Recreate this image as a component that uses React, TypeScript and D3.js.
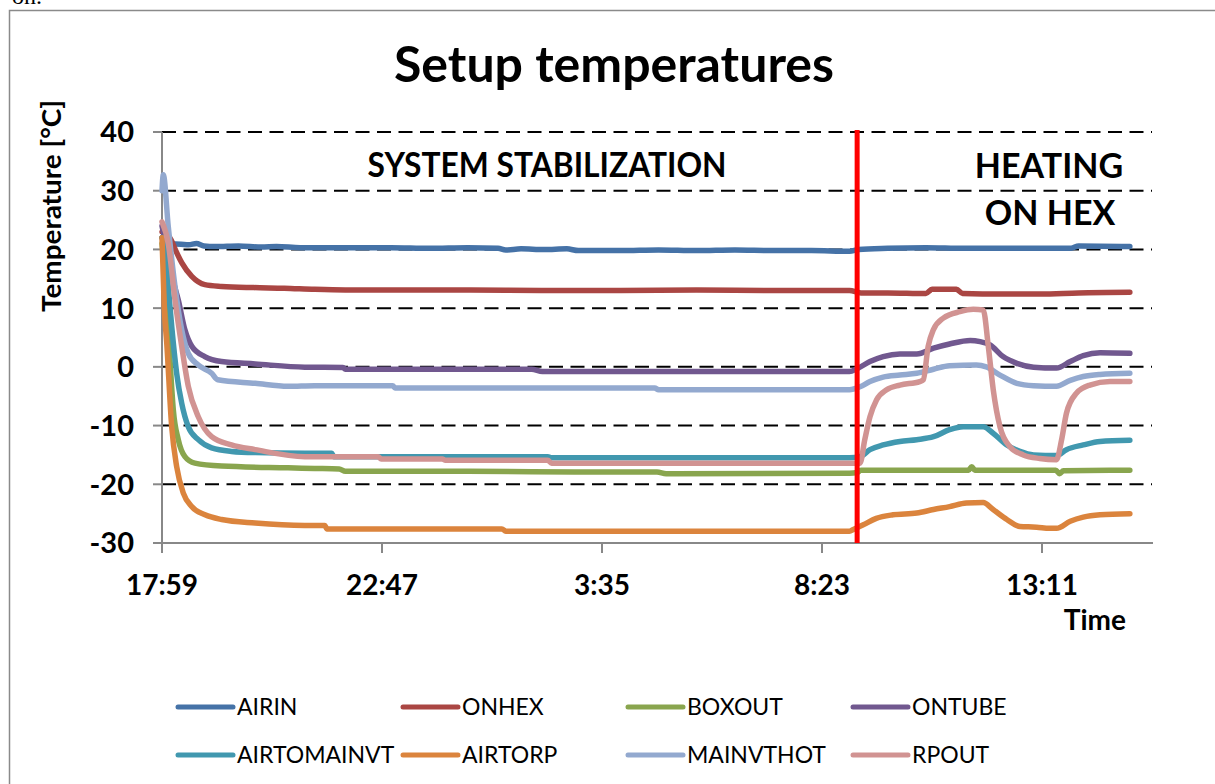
import React from 'react';
import * as d3 from 'd3';

type Pt = [number, number];

// time in minutes after 17:59, temperature in °C
const AIRIN: Pt[] = [[0,22],[3,21.5],[8,21],[25,20.9],[35,20.8],[45,21],[55,20.6],[70,20.5],[100,20.6],[130,20.4],[150,20.5],[181,20.3],[250,20.3],[300,20.3],[350,20.2],[400,20.3],[440,20.2],[450,19.9],[470,20.1],[500,20.0],[530,20.1],[545,19.8],[600,19.8],[650,19.9],[700,19.8],[750,19.9],[800,19.8],[850,19.8],[900,19.7],[912,20.0],[950,20.2],[1000,20.3],[1050,20.2],[1100,20.2],[1150,20.2],[1190,20.2],[1200,20.6],[1267,20.5]];
const ONHEX: Pt[] = [[0,23],[5,22.8],[12,21.6],[18,19.8],[26,17.7],[39,15.4],[56,14],[78,13.7],[120,13.5],[160,13.4],[200,13.2],[240,13.1],[300,13.1],[400,13.1],[500,13.0],[600,13.0],[700,13.1],[800,13.0],[900,13.0],[915,12.6],[950,12.6],[1000,12.5],[1008,13.2],[1040,13.2],[1048,12.5],[1100,12.4],[1150,12.4],[1200,12.6],[1267,12.7]];
const BOXOUT: Pt[] = [[0,21],[6,12.5],[10.5,1.2],[14.8,-7.3],[21.3,-12.4],[30,-15.3],[43,-16.4],[78,-16.9],[165,-17.2],[200,-17.3],[232,-17.4],[240,-17.8],[400,-17.8],[550,-17.9],[648,-17.9],[660,-18.2],[900,-18.1],[910,-18.0],[915,-17.6],[1000,-17.6],[1056,-17.6],[1060,-17.0],[1064,-17.6],[1170,-17.6],[1175,-18.2],[1180,-17.7],[1267,-17.6]];
const ONTUBE: Pt[] = [[0,24],[8,19],[14,15],[21.3,11.4],[30,6.3],[39,3.5],[56,1.75],[78,0.9],[122,0.5],[187,-0.05],[237,-0.1],[240,-0.4],[484,-0.4],[498,-0.8],[900,-0.8],[910,-0.3],[926.8,0.9],[944,1.75],[966,2.2],[988,2.2],[1010,3.2],[1031,3.9],[1058,4.5],[1071,4.3],[1084,3.75],[1101,1.75],[1119,0.6],[1141,-0.05],[1171,-0.2],[1189,0.9],[1206,1.9],[1228,2.4],[1267,2.3]];
const AIRTOMAINVT: Pt[] = [[0,22],[4,20],[8.2,13.7],[12.7,6.9],[19.2,-1.1],[25.8,-6.2],[34.4,-10.2],[47.5,-12.4],[65,-13.8],[91,-14.4],[122,-14.6],[187,-14.7],[222,-14.7],[225,-15.3],[505,-15.3],[510,-15.5],[900,-15.5],[913.7,-15.3],[926.8,-14.1],[944,-13.3],[966,-12.7],[988,-12.4],[1010,-11.9],[1031,-10.7],[1049,-10.2],[1075,-10.2],[1088,-11.3],[1106,-13.3],[1123,-14.4],[1141,-15],[1171,-15.1],[1184,-14.1],[1206,-13.3],[1228,-12.7],[1267,-12.5]];
const AIRTORP: Pt[] = [[0,22],[3,10],[6.2,4.1],[12.7,-10.2],[19.2,-17],[27.9,-21.5],[38.9,-23.8],[56.3,-25.2],[78,-26.0],[122,-26.6],[187,-27.0],[213,-27.0],[216,-27.6],[445,-27.6],[450,-28.0],[900,-28.0],[905,-27.7],[918,-26.9],[935,-25.8],[957,-25.2],[988,-24.9],[1010,-24.3],[1031,-23.8],[1053,-23.2],[1075,-23.1],[1088,-24.3],[1106,-26.0],[1123,-27.2],[1145,-27.3],[1162,-27.5],[1171,-27.5],[1189,-26.3],[1206,-25.6],[1228,-25.2],[1267,-25.0]];
const MAINVTHOT: Pt[] = [[0,30],[1.7,32.7],[8.2,23.9],[17,13.7],[25.8,6.3],[34.4,2.3],[47.5,0.3],[65,-1.1],[73,-2.2],[122,-2.8],[165,-3.3],[200,-3.2],[302,-3.2],[305,-3.6],[645,-3.6],[650,-3.9],[900,-3.9],[913.7,-3.4],[926.8,-2.5],[944,-1.75],[966,-1.4],[988,-1.1],[1010,-0.4],[1031,0.2],[1066,0.3],[1079,0],[1097,-1.4],[1119,-2.8],[1141,-3.2],[1171,-3.3],[1189,-2.3],[1206,-1.65],[1228,-1.3],[1267,-1.1]];
const RPOUT: Pt[] = [[0,24.7],[8.2,21],[17,11.4],[25.8,3.5],[34.4,-3.3],[47.5,-8.5],[65,-11.9],[91,-13.3],[122,-14.1],[187,-15.3],[283,-15.3],[287,-15.7],[367,-15.7],[371,-15.9],[505,-15.9],[510,-16.4],[905,-16.4],[913.7,-16.4],[920,-12.4],[926.8,-8.5],[935.5,-5.6],[948.6,-3.9],[966,-3.1],[992,-2.5],[996.6,-2.2],[1003,3.5],[1009.7,6.3],[1022.8,8.3],[1044.6,9.4],[1062,9.8],[1075,9.7],[1081.7,3.5],[1088.2,-3.9],[1097,-10.2],[1110,-13.6],[1127.5,-15.0],[1149,-15.6],[1171,-15.8],[1177.7,-12.4],[1184,-7.9],[1197,-4.5],[1214.7,-3.1],[1241,-2.5],[1267,-2.5]];

const seriesNames = ['AIRIN', 'ONHEX', 'BOXOUT', 'ONTUBE', 'AIRTOMAINVT', 'AIRTORP', 'MAINVTHOT', 'RPOUT'];
const seriesData = [AIRIN, ONHEX, BOXOUT, ONTUBE, AIRTOMAINVT, AIRTORP, MAINVTHOT, RPOUT];
const seriesColors = ['#4572A7', '#AA4643', '#89A54E', '#71588F', '#4198AF', '#DB843D', '#93A9CF', '#D19392'];

const yTicks = [40, 30, 20, 10, 0, -10, -20, -30];
const xTickMinutes = [0, 288, 576, 864, 1152];
const xTickLabels = ['17:59', '22:47', '3:35', '8:23', '13:11'];
const heatingStartMinute = 910;

const FONT = 'Lato, "Open Sans", sans-serif';

export default function App() {
  const x = d3.scaleLinear().domain([0, 1296]).range([162, 1152]);
  const y = d3.scaleLinear().domain([-30, 40]).range([543, 132]);
  const line = d3
    .line<Pt>()
    .x((d) => x(d[0]))
    .y((d) => y(d[1]))
    .curve(d3.curveMonotoneX);

  const legendX = (i: number) => 178 + (i % 4) * 225;
  const legendY = (i: number) => (i < 4 ? 707 : 755);

  return (
    <svg
      width={1215}
      height={784}
      style={{ position: 'absolute', left: 0, top: 0, background: '#fff' }}
      fontFamily={FONT}
    >
      <rect x={0} y={0} width={1215} height={784} fill="#fff" />
      <text x={12} y={4} fontFamily='"Liberation Serif", serif' fontSize={24} fill="#000">on.</text>
      <rect x={9.5} y={10.5} width={1400} height={1000} fill="#fff" stroke="#8a8a8a" strokeWidth={1.5} />

      <text x={614} y={82} textAnchor="middle" fontSize={50} fontWeight={700} fill="#000">
        Setup temperatures
      </text>

      {/* gridlines */}
      {yTicks.map((t) => (
        <line key={'g' + t} x1={162} x2={1152} y1={y(t)} y2={y(t)} stroke="#000" strokeWidth={2} strokeDasharray="14,7.5" />
      ))}
      {/* y axis */}
      <line x1={162} x2={162} y1={132} y2={544} stroke="#888" strokeWidth={2} />
      {yTicks.map((t) => (
        <line key={'yt' + t} x1={153} x2={162} y1={y(t)} y2={y(t)} stroke="#888" strokeWidth={2} />
      ))}
      {yTicks.map((t) => (
        <text key={'yl' + t} x={134} y={y(t)} dy="0.36em" textAnchor="end" fontSize={29} fontWeight={700} fill="#000">
          {t}
        </text>
      ))}
      {/* x axis */}
      <line x1={154} x2={1153} y1={543} y2={543} stroke="#888" strokeWidth={2} />
      {xTickMinutes.map((m) => (
        <line key={'xt' + m} x1={x(m)} x2={x(m)} y1={543} y2={553} stroke="#888" strokeWidth={2} />
      ))}
      {xTickMinutes.map((m, i) => (
        <text key={'xl' + m} x={x(m)} y={595} textAnchor="middle" fontSize={28} fontWeight={700} fill="#000">
          {xTickLabels[i]}
        </text>
      ))}
      <text x={1126} y={630} textAnchor="end" fontSize={28} fontWeight={700} fill="#000">Time</text>

      <text
        transform="translate(61,206) rotate(-90)"
        textAnchor="middle"
        fontSize={26}
        fontWeight={700}
        fill="#000"
        textLength={212}
        lengthAdjust="spacingAndGlyphs"
      >
        Temperature [°C]
      </text>

      {/* series */}
      {seriesData.map((d, i) => (
        <path
          key={seriesNames[i]}
          d={line(d) || ''}
          fill="none"
          stroke={seriesColors[i]}
          strokeWidth={5.5}
          strokeLinejoin="round"
          strokeLinecap="round"
        />
      ))}

      {/* heating marker */}
      <line x1={x(heatingStartMinute)} x2={x(heatingStartMinute)} y1={130} y2={543} stroke="#ff0000" strokeWidth={5} />

      <text x={547} y={177} textAnchor="middle" fontSize={34} fontWeight={700} fill="#000" textLength={359} lengthAdjust="spacingAndGlyphs">
        SYSTEM STABILIZATION
      </text>
      <text x={1049} y={178} textAnchor="middle" fontSize={34} fontWeight={700} fill="#000">HEATING</text>
      <text x={1050} y={225} textAnchor="middle" fontSize={34} fontWeight={700} fill="#000">ON HEX</text>

      {/* legend */}
      {seriesNames.map((n, i) => (
        <g key={'lg' + n}>
          <line
            x1={legendX(i)}
            x2={legendX(i) + 55}
            y1={legendY(i)}
            y2={legendY(i)}
            stroke={seriesColors[i]}
            strokeWidth={5}
            strokeLinecap="round"
          />
          <text x={legendX(i) + 59} y={legendY(i)} dy="0.36em" fontSize={23} fill="#000">
            {n}
          </text>
        </g>
      ))}
    </svg>
  );
}
